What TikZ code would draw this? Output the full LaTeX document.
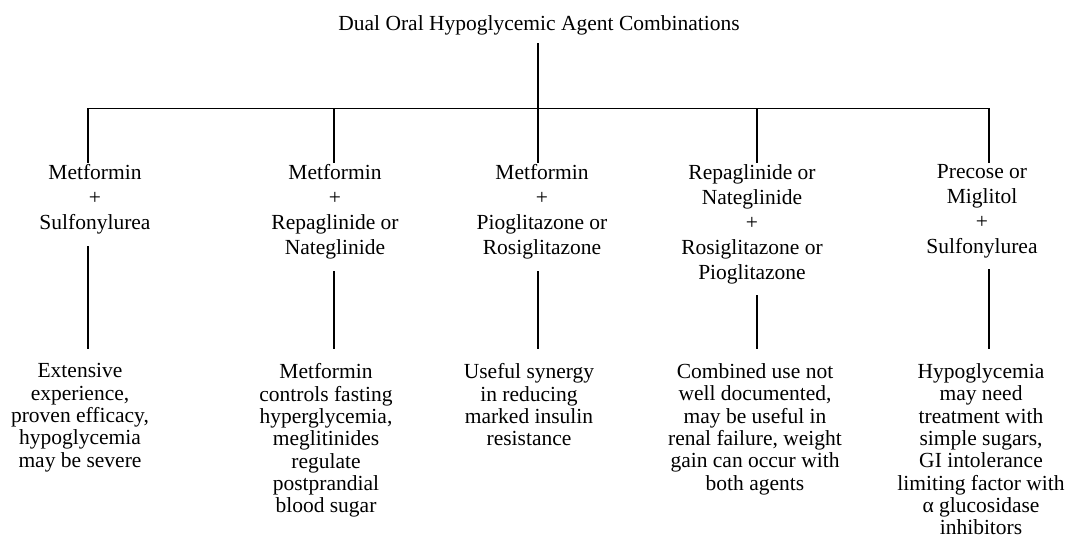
\documentclass[tikz,border=0pt]{standalone}
\usepackage{fontspec}
\setmainfont{Liberation Serif}

\begin{document}
\begin{tikzpicture}[x=1pt, y=-1pt, line width=1.5pt, line cap=rect,
        drug/.style={align=center, anchor=north, inner sep=0pt, font=\fontsize{21.5}{25}\selectfont},
        remark/.style={align=center, anchor=north, inner sep=0pt, font=\fontsize{21.5}{22.3}\selectfont}]
        \useasboundingbox (0,0) rectangle (1068,553);

        \node[inner sep=0pt, font=\fontsize{21.5}{25}\selectfont] (combo) at (539,25) {Dual Oral Hypoglycemic Agent Combinations};

        \coordinate (j1) at (88,108.5);
        \coordinate (j2) at (334,108.5);
        \coordinate (j3) at (538,108.5);
        \coordinate (j4) at (757,108.5);
        \coordinate (j5) at (989,108.5);

        \node[drug] (pair1) at (95,164) {Metformin\\+\\Sulfonylurea};
        \node[drug] (pair2) at (335,164) {Metformin\\+\\Repaglinide or\\Nateglinide};
        \node[drug] (pair3) at (542,164) {Metformin\\+\\Pioglitazone or\\Rosiglitazone};
        \node[drug] (pair4) at (752,164) {Repaglinide or\\Nateglinide\\+\\Rosiglitazone or\\Pioglitazone};
        \node[drug] (pair5) at (982,164) {Precose or\\Miglitol\\+\\Sulfonylurea};

        \node[remark] (note1) at (80,363) {Extensive\\experience,\\proven efficacy,\\hypoglycemia\\may be severe};
        \node[remark] (note2) at (326,363) {Metformin\\controls fasting\\hyperglycemia,\\meglitinides\\regulate\\postprandial\\blood sugar};
        \node[remark] (note3) at (529,363) {Useful synergy\\in reducing\\marked insulin\\resistance};
        \node[remark] (note4) at (755,363) {Combined use not\\well documented,\\may be useful in\\renal failure, weight\\gain can occur with\\both agents};
        \node[remark] (note5) at (981,363) {Hypoglycemia\\may need\\treatment with\\simple sugars,\\GI intolerance\\limiting factor with\\α glucosidase\\inhibitors};

        \draw[shorten <=8pt] (combo.south -| j3) -- (j3);
        \draw (j1) -- (j5);
        \foreach \i in {1,...,5} {
            \draw[shorten >=2pt] (j\i) -- (j\i |- pair\i.north);
            \draw[shorten <=11pt, shorten >=15pt] (j\i |- pair\i.south) -- (j\i |- note\i.north);
        }
\end{tikzpicture}
\end{document}
